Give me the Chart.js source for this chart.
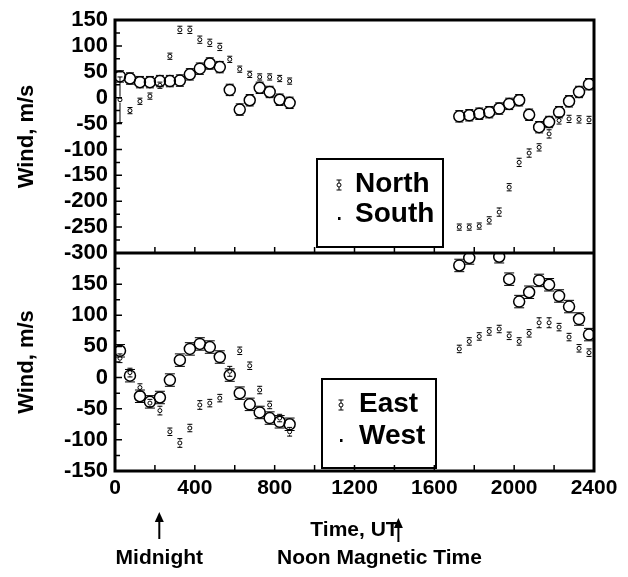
<!DOCTYPE html>
<html>
<head>
<meta charset="utf-8">
<script src="https://cdn.jsdelivr.net/npm/chart.js@4/dist/chart.umd.min.js"></script>
<style>
  html, body { margin: 0; padding: 0; background: #fff; }
</style>
</head>
<body>
<canvas id="wind" width="628" height="577"></canvas>
<script>
// ── data (time in UT hhmm-ish units, wind in m/s) ──
const TIME = [25, 75, 125, 175, 225, 275, 325, 375, 425, 475, 525, 575, 625, 675, 725, 775, 825, 875,
              1725, 1775, 1825, 1875, 1925, 1975, 2025, 2075, 2125, 2175, 2225, 2275, 2325, 2375];

// top panel
const NORTH     = [-4, -25, -7, 3, 24, 80, 131, 131, 112, 106, 98, 74, 55, 45, 40, 40, 37, 32,
                   -250, -250, -248, -237, -221, -173, -125, -107, -96, -70, -44, -41, -42, -43];
const NORTH_ERR = [44, 6, 6, 6, 6, 6, 7, 7, 7, 7, 7, 6, 6, 6, 6, 6, 6, 6,
                   6, 6, 6, 7, 8, 7, 8, 8, 7, 8, 7, 7, 7, 7];
const SOUTH     = [41, 37, 30, 30, 32, 32, 33, 45, 56, 66, 59, 15, -23, -5, 19, 11, -4, -10,
                   -36, -34, -31, -28, -21, -12, -5, -33, -57, -47, -28, -7, 11, 26];
const SOUTH_ERR = [11, 11, 11, 11, 11, 11, 11, 11, 11, 11, 11, 11, 11, 11, 11, 11, 11, 11,
                   11, 11, 11, 11, 11, 11, 11, 11, 11, 11, 11, 11, 11, 11];

// bottom panel
const EAST      = [31, 8, -16, -41, -53, -87, -105, -81, -44, -41, -33, 10, 43, 19, -20, -44, -65, -87,
                   46, 58, 66, 74, 78, 67, 58, 71, 88, 88, 81, 65, 47, 40];
const EAST_ERR  = [7, 7, 6, 6, 7, 6, 7, 6, 7, 6, 6, 8, 6, 6, 6, 6, 6, 7,
                   6, 6, 6, 6, 6, 6, 6, 6, 8, 8, 6, 6, 6, 6];
const WEST      = [43, 3, -30, -39, -32, -4, 28, 46, 54, 49, 33, 4, -25, -43, -56, -65, -71, -75,
                   180, 192, null, null, 194, 158, 122, 137, 156, 149, 131, 114, 94, 69];
const WEST_ERR  = [10, 10, 10, 10, 10, 10, 10, 10, 10, 10, 10, 10, 10, 10, 10, 10, 10, 10,
                   10, 10, 10, 10, 10, 10, 10, 10, 10, 10, 10, 10, 10, 10];

// axes
const X_RANGE = [0, 2400];
const X_STEP = 400;
const TOP_RANGE = [-300, 150];
const BOT_RANGE = [-150, 200];
const Y_STEP = 50;

// arrows under the time axis
const MARK_TIME  = [222, 1420];
const MARK_LABEL = ['Midnight', 'Noon Magnetic Time'];

const FONT = '"Liberation Sans", Arial, Helvetica, sans-serif';

function pts(vals, errs) {
    return TIME.map((t, i) => ({ x: t, y: vals[i], e: errs[i] })).filter(p => p.y !== null);
}

// ── plugins ──
const errorBars = {
    id: 'errorBars',
    afterDatasetsDraw(chart) {
        const ctx = chart.ctx;
        const xs = chart.scales.x;
        chart.data.datasets.forEach((ds, di) => {
            const meta = chart.getDatasetMeta(di);
            const ys = chart.scales[ds.yAxisID];
            const r = ds.pointRadius + 1;
            ctx.save();
            ctx.beginPath();
            ctx.rect(xs.left, ys.top, xs.width, ys.height);
            ctx.clip();
            ctx.strokeStyle = '#000';
            ctx.lineWidth = 1;
            meta.data.forEach((el, i) => {
                const p = ds.data[i];
                if (!p.e) return;
                const x = el.x, y = el.y;
                const y1 = ys.getPixelForValue(p.y + p.e);
                const y2 = ys.getPixelForValue(p.y - p.e);
                const w = ds.capHalf;
                ctx.beginPath();
                if (y - y1 > r) { ctx.moveTo(x, y1); ctx.lineTo(x, y - r); }
                if (y2 - y > r) { ctx.moveTo(x, y + r); ctx.lineTo(x, y2); }
                ctx.moveTo(x - w, y1); ctx.lineTo(x + w, y1);
                ctx.moveTo(x - w, y2); ctx.lineTo(x + w, y2);
                ctx.stroke();
            });
            ctx.restore();
        });
    }
};

const frame = {
    id: 'frame',
    afterDraw(chart) {
        const { ctx, chartArea: a, scales } = chart;
        const xs = scales.x;
        const mid = scales.yTop.bottom;
        ctx.save();
        ctx.strokeStyle = '#000';
        ctx.lineWidth = 1.5;
        ctx.beginPath();
        for (let t = X_RANGE[0] + X_STEP / 2; t < X_RANGE[1]; t += X_STEP / 2) {
            const px = xs.getPixelForValue(t);
            [mid, a.bottom].forEach(yb => { ctx.moveTo(px, yb); ctx.lineTo(px, yb - 6); });
        }
        ['yTop', 'yBot'].forEach(id => {
            const s = scales[id];
            for (let v = s.min + Y_STEP / 2; v < s.max; v += Y_STEP / 2) {
                const py = s.getPixelForValue(v);
                ctx.moveTo(a.left, py);
                ctx.lineTo(a.left + (v % Y_STEP === 0 ? 7 : 5), py);
            }
        });
        ctx.stroke();
        ctx.lineWidth = 3;
        ctx.strokeRect(a.left, a.top, a.right - a.left, a.bottom - a.top);
        ctx.beginPath();
        ctx.moveTo(a.left, mid);
        ctx.lineTo(a.right, mid);
        ctx.stroke();
        ctx.restore();
    }
};

function smallMark(ctx, x, y) {
    ctx.beginPath();
    ctx.arc(x, y, 2, 0, Math.PI * 2);
    ctx.moveTo(x, y - 5); ctx.lineTo(x, y - 2);
    ctx.moveTo(x, y + 2); ctx.lineTo(x, y + 5);
    ctx.moveTo(x - 2.5, y - 5); ctx.lineTo(x + 2.5, y - 5);
    ctx.moveTo(x - 2.5, y + 5); ctx.lineTo(x + 2.5, y + 5);
    ctx.stroke();
}

const legendBoxes = {
    id: 'legendBoxes',
    afterDraw(chart) {
        const ctx = chart.ctx;
        const boxes = [
            { x: 317, y: 159, w: 126, h: 88, names: ['North', 'South'], tx: 355, ty: [184, 214], sx: 339 },
            { x: 322, y: 379, w: 114, h: 89, names: ['East', 'West'], tx: 359, ty: [404, 436], sx: 341 }
        ];
        ctx.save();
        ctx.strokeStyle = '#000';
        ctx.fillStyle = '#000';
        boxes.forEach(b => {
            ctx.lineWidth = 2;
            ctx.strokeRect(b.x, b.y, b.w, b.h);
            ctx.lineWidth = 1;
            smallMark(ctx, b.sx, b.ty[0] + 1);
            ctx.fillRect(b.sx - 1, b.ty[1] + 3, 2.5, 3);
            ctx.font = 'bold 28px ' + FONT;
            ctx.textBaseline = 'middle';
            ctx.textAlign = 'left';
            ctx.fillText(b.names[0], b.tx, b.ty[0]);
            ctx.fillText(b.names[1], b.tx, b.ty[1]);
        });

        // arrows + labels below the axis
        const xs = chart.scales.x;
        const tops = [512, 518], bots = [539, 542];
        ctx.lineWidth = 2;
        ctx.font = 'bold 21px ' + FONT;
        MARK_TIME.forEach((t, i) => {
            const px = xs.getPixelForValue(t);
            ctx.beginPath();
            ctx.moveTo(px, tops[i] + 8);
            ctx.lineTo(px, bots[i]);
            ctx.stroke();
            ctx.beginPath();
            ctx.moveTo(px, tops[i]);
            ctx.lineTo(px - 4.5, tops[i] + 10);
            ctx.lineTo(px + 4.5, tops[i] + 10);
            ctx.closePath();
            ctx.fill();
            if (i === 0) {
                ctx.textAlign = 'center';
                ctx.fillText(MARK_LABEL[i], px, 558);
            } else {
                ctx.textAlign = 'left';
                ctx.fillText(MARK_LABEL[i], 277, 558);
            }
        });
        ctx.restore();
    }
};

// ── chart ──
const tickFont = { family: FONT, size: 22, weight: 'bold', lineHeight: 1 };
const yTitle = {
    display: true,
    text: 'Wind, m/s',
    color: '#000',
    font: { family: FONT, size: 22, weight: 'bold', lineHeight: 1.2 },
    padding: { top: 14, bottom: 0 }
};

function yScale(range, weight, hideTop) {
    return {
        type: 'linear',
        position: 'left',
        stack: 'wind',
        stackWeight: weight,
        min: range[0],
        max: range[1],
        grid: { display: false, drawTicks: false },
        border: { display: false },
        ticks: {
            stepSize: Y_STEP,
            autoSkip: false,
            padding: 7,
            color: '#000',
            font: tickFont,
            callback: v => (hideTop && v === range[1]) ? '' : String(v)
        },
        title: yTitle,
        afterFit: s => { s.width = 115; }
    };
}

new Chart(document.getElementById('wind'), {
    type: 'scatter',
    data: {
        datasets: [
            {
                label: 'North', yAxisID: 'yTop', data: pts(NORTH, NORTH_ERR),
                pointRadius: 2, borderWidth: 1, borderColor: '#000',
                backgroundColor: 'rgba(0,0,0,0)', capHalf: 2.5
            },
            {
                label: 'South', yAxisID: 'yTop', data: pts(SOUTH, SOUTH_ERR),
                pointRadius: 5.5, borderWidth: 1.5, borderColor: '#000',
                backgroundColor: 'rgba(0,0,0,0)', capHalf: 4
            },
            {
                label: 'East', yAxisID: 'yBot', data: pts(EAST, EAST_ERR),
                pointRadius: 2, borderWidth: 1, borderColor: '#000',
                backgroundColor: 'rgba(0,0,0,0)', capHalf: 2.5
            },
            {
                label: 'West', yAxisID: 'yBot', data: pts(WEST, WEST_ERR),
                pointRadius: 5.5, borderWidth: 1.5, borderColor: '#000',
                backgroundColor: 'rgba(0,0,0,0)', capHalf: 5
            }
        ]
    },
    options: {
        responsive: false,
        animation: false,
        devicePixelRatio: 1,
        layout: { padding: { top: 20, right: 34, left: 0, bottom: 0 } },
        plugins: {
            legend: { display: false },
            tooltip: { enabled: false }
        },
        scales: {
            x: {
                type: 'linear',
                position: 'bottom',
                min: X_RANGE[0],
                max: X_RANGE[1],
                grid: { display: false, drawTicks: false },
                border: { display: false },
                ticks: {
                    stepSize: X_STEP,
                    padding: 7,
                    color: '#000',
                    font: { family: FONT, size: 21, weight: 'bold', lineHeight: 1 },
                    callback: v => String(v)
                },
                title: {
                    display: true,
                    text: 'Time, UT',
                    color: '#000',
                    font: { family: FONT, size: 21, weight: 'bold', lineHeight: 1.2 },
                    padding: { top: 0, bottom: 34 }
                },
                afterFit: s => { s.height = 106; }
            },
            // listed bottom-first: the layout stacks later axes above earlier ones
            yBot: yScale(BOT_RANGE, 218, true),
            yTop: yScale(TOP_RANGE, 233, false)
        }
    },
    plugins: [errorBars, frame, legendBoxes]
});
</script>
</body>
</html>
